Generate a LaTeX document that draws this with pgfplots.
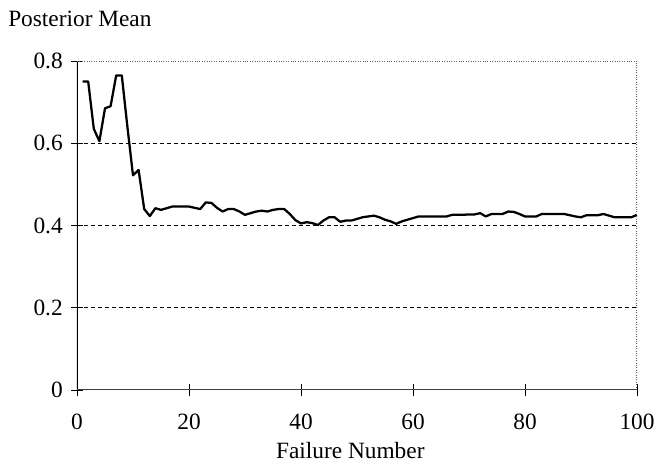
\documentclass[border=0pt]{standalone}
\usepackage{fontspec}
\setmainfont{Liberation Serif}
\usepackage{pgfplots}
\pgfplotsset{compat=1.18}
\usepackage{pgfplotstable}

% posterior mean after each failure
\pgfplotstableread{
n mean
1 0.750
2 0.750
3 0.635
4 0.605
5 0.685
6 0.690
7 0.765
8 0.765
9 0.640
10 0.522
11 0.535
12 0.440
13 0.423
14 0.442
15 0.438
16 0.442
17 0.446
18 0.446
19 0.446
20 0.446
21 0.443
22 0.440
23 0.456
24 0.455
25 0.443
26 0.434
27 0.440
28 0.440
29 0.434
30 0.426
31 0.430
32 0.434
33 0.436
34 0.434
35 0.438
36 0.440
37 0.440
38 0.428
39 0.413
40 0.405
41 0.408
42 0.406
43 0.401
44 0.412
45 0.420
46 0.420
47 0.409
48 0.412
49 0.412
50 0.416
51 0.420
52 0.422
53 0.424
54 0.420
55 0.414
56 0.410
57 0.404
58 0.410
59 0.414
60 0.418
61 0.422
62 0.422
63 0.422
64 0.422
65 0.422
66 0.422
67 0.426
68 0.426
69 0.426
70 0.427
71 0.427
72 0.430
73 0.422
74 0.428
75 0.428
76 0.428
77 0.434
78 0.433
79 0.428
80 0.422
81 0.422
82 0.422
83 0.428
84 0.428
85 0.428
86 0.428
87 0.428
88 0.425
89 0.422
90 0.420
91 0.425
92 0.425
93 0.425
94 0.428
95 0.424
96 0.420
97 0.420
98 0.420
99 0.420
100 0.426
}\posterior

\begin{document}
\fontsize{17.5}{21}\selectfont
\begin{tikzpicture}
\begin{axis}[
  name=ax,
  scale only axis,
  width=420pt, height=246.75pt,
  xmin=0, xmax=100, ymin=0, ymax=0.8,
  xtick={0,20,40,60,80,100},
  ytick={0.2,0.4,0.6},
  extra y ticks={0,0.8},
  extra y tick style={grid=none},
  xtick pos=lower, ytick pos=left,
  ymajorgrids,
  grid style={black, line width=0.8pt, dash pattern=on 3pt off 2.2pt},
  tick align=center,
  major tick length=9pt,
  tick style={black, line width=0.6pt},
  axis line style={draw=none},
  /pgf/number format/assume math mode=true,
  /pgf/number format/fixed,
  xticklabel style={anchor=base, inner sep=0pt, yshift=-25.5pt},
  yticklabel style={anchor=east, inner sep=0pt, xshift=-6pt},
]
\addplot[black, line width=1.7pt, line join=round] table[x=n, y=mean] {\posterior};
% frame: solid left and bottom, dotted top and right
\draw[black, line width=0.9pt] (rel axis cs:0,0) -- (rel axis cs:0,1);
\draw[black!75, line width=0.75pt] (rel axis cs:0,0) -- (rel axis cs:1,0);
\draw[black!60, densely dotted, line width=0.8pt] (rel axis cs:0,1) -- (rel axis cs:1,1) -- (rel axis cs:1,0);
\end{axis}
\node[anchor=base west, inner sep=0pt] at ([xshift=-51.75pt, yshift=25.5pt]ax.north west) {Posterior Mean};
\node[anchor=base, inner sep=0pt] at ([xshift=-5pt, yshift=-51.5pt]ax.south) {Failure Number};
\path ([xshift=-57.75pt, yshift=-56.5pt]ax.south west) rectangle ([xshift=14.25pt, yshift=45.75pt]ax.north east);
\end{tikzpicture}
\end{document}
